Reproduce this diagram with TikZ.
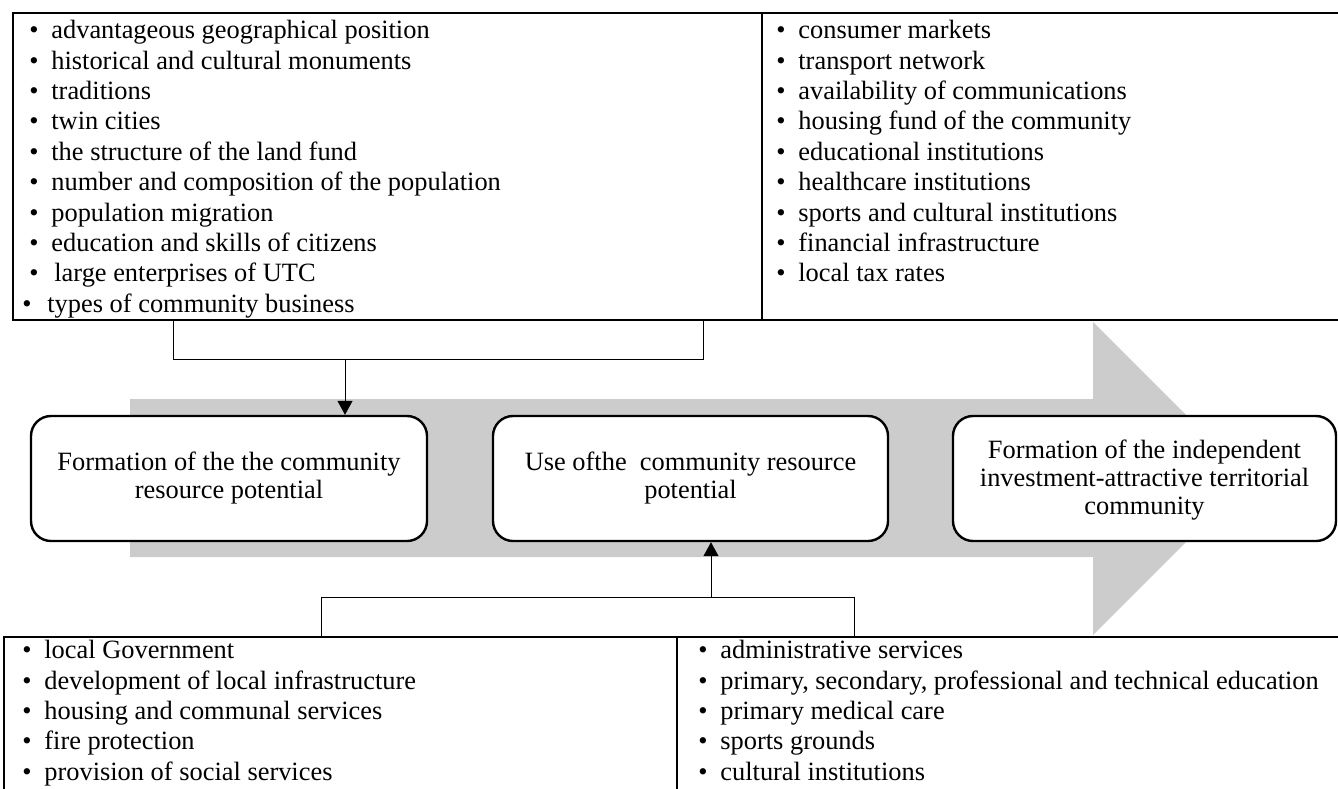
\documentclass[tikz,border=0pt]{standalone}
\usepackage{fontspec}
\setmainfont{Liberation Serif}
\usetikzlibrary{fit,arrows.meta}
\definecolor{arrowgray}{RGB}{204,204,204}
\newcommand\bu{\makebox[11pt][l]{\textbullet}}
\begin{document}
\begin{tikzpicture}[x=0.5pt,y=-0.5pt,
  frame/.style={draw, line width=1pt, inner sep=0pt},
  lst/.style={font=\fontsize{13.2pt}{15.2pt}\selectfont, align=left, anchor=north west, inner sep=0pt},
  rbox/.style={draw, line width=1.2pt, rounded corners=10pt, fill=white, minimum height=62.5pt, align=center, inner sep=0pt, font=\fontsize{13.2pt}{14pt}\selectfont},
  conn/.style={line width=0.5pt},
  arr/.style={conn, -{Triangle[width=7.5pt,length=7pt]}}
]
\useasboundingbox (0,0) rectangle (1338,788);
% big gray arrow
\fill[arrowgray] (130,399) -- (1093,399) -- (1093,322) -- (1249.5,478.5) -- (1093,635) -- (1093,557) -- (130,557) -- cycle;
% frames
\node[frame, fit={(13,13)(762,320)}] (tl) {};
\node[frame, fit={(762,13)(1350,320)}] (tr) {};
\node[frame, fit={(4,637)(677,800)}] (bl) {};
\node[frame, fit={(677,637)(1350,800)}] (br) {};
% lists
\node[lst] (tlt) at (29,17) {\strut\bu advantageous geographical position\\
\strut\bu historical and cultural monuments\\
\strut\bu traditions\\
\strut\bu twin cities\\
\strut\bu the structure of the land fund\\
\strut\bu number and composition of the population\\
\strut\bu population migration\\
\strut\bu education and skills of citizens\\
\strut\makebox[12.5pt][l]{\textbullet}large enterprises of UTC\\
\strut\hspace*{-3.5pt}\makebox[12.5pt][l]{\textbullet}types of community business};
\node[lst] (trt) at (776,17) {\strut\bu consumer markets\\
\strut\bu transport network\\
\strut\bu availability of communications\\
\strut\bu housing fund of the community\\
\strut\bu educational institutions\\
\strut\bu healthcare institutions\\
\strut\bu sports and cultural institutions\\
\strut\bu financial infrastructure\\
\strut\bu local tax rates};
\node[lst] (blt) at (22,637) {\strut\bu local Government\\
\strut\bu development of local infrastructure\\
\strut\bu housing and communal services\\
\strut\bu fire protection\\
\strut\bu provision of social services};
\node[lst] (brt) at (698,637) {\strut\bu administrative services\\
\strut\bu primary, secondary, professional and technical education\\
\strut\bu primary medical care\\
\strut\bu sports grounds\\
\strut\bu cultural institutions};
% process boxes
\node[rbox, minimum width=198pt] (f1) at (229,478.5) {\strut Formation of the the community\\\strut resource potential};
\node[rbox, minimum width=197.5pt] (f2) at (690.5,478.5) {\strut Use ofthe~ community resource\\\strut potential};
\node[rbox, minimum width=191.5pt] (f3) at (1144.5,478.5) {\rule{0pt}{12pt}\strut Formation of the independent\\\strut investment-attractive territorial\\\strut community};
% top bracket
\coordinate (ta) at (173,359);
\coordinate (tb) at (703,359);
\coordinate (tc) at (345,359);
\draw[conn] (tl.south -| ta) -- (ta) -- (tb) -- (tl.south -| tb);
\draw[arr] (tc) -- (f1.north -| tc);
% bottom bracket
\coordinate (ba) at (321,597);
\coordinate (bb) at (854,597);
\coordinate (bc) at (711,597);
\draw[conn] (bl.north -| ba) -- (ba) -- (bb) -- (br.north -| bb);
\draw[arr] (bc) -- (f2.south -| bc);
\end{tikzpicture}
\end{document}
